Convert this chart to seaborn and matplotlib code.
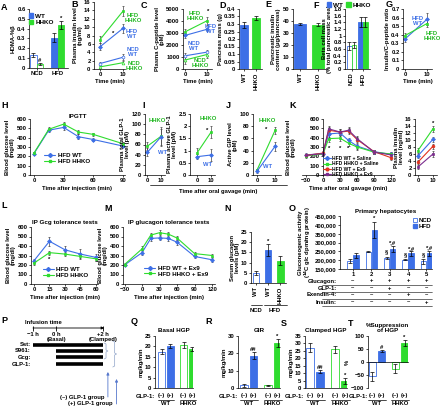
import numpy as np
import pandas as pd
import matplotlib
matplotlib.use("Agg")
import matplotlib.pyplot as plt
import matplotlib.transforms as mtransforms
from matplotlib.patches import Patch
from matplotlib.lines import Line2D
import seaborn as sns

sns.set_theme(style="ticks")
plt.rcParams["font.family"] = ["Liberation Sans", "DejaVu Sans"]
plt.rcParams["font.weight"] = "bold"
plt.rcParams["axes.labelweight"] = "bold"
plt.rcParams["axes.titleweight"] = "bold"
plt.rcParams["axes.linewidth"] = 0.5
plt.rcParams["axes.edgecolor"] = "black"
plt.rcParams["text.color"] = "black"
plt.rcParams["axes.labelcolor"] = "black"

BLUE = "#3d6fe6"
GREEN = "#2fdc2f"
RED = "#e0321e"
PURPLE = "#7b2d8e"
TBLUE = "#3d6fe6"
TGREEN = "#22b822"
FS = 4.2

# ---------------- data ----------------
# A  HOMA-%beta
a_diet = ["NCD", "NCD", "HFD", "HFD"]
a_geno = ["WT", "HHKO", "WT", "HHKO"]
homa_vals = [0.13, 0.04, 0.31, 0.44]
homa_errs = [0.02, 0.01, 0.05, 0.04]
# B  plasma insulin (ng/ml), 0 and 10 min
t2 = [0, 10]
ins_hfd_ko = [7.0, 13.8]
ins_hfd_wt = [5.3, 9.7]
ins_ncd_wt = [1.3, 2.8]
ins_ncd_ko = [0.5, 1.5]
ins_err_hfd_ko = [0.8, 1.2]
ins_err_hfd_wt = [0.8, 1.0]
ins_err_ncd_wt = [0.3, 0.7]
ins_err_ncd_ko = [0.2, 0.4]
# C  C-peptide (pM)
cp_hfd_ko = [3100, 4000]
cp_hfd_wt = [2800, 3300]
cp_ncd_wt = [1100, 1400]
cp_ncd_ko = [750, 1200]
cp_err_hfd_ko = [250, 300]
cp_err_hfd_wt = [200, 150]
cp_err_ncd_wt = [250, 200]
cp_err_ncd_ko = [300, 250]
# D  pancreas mass (g)
d_geno = ["WT", "HHKO"]
pm_vals = [0.295, 0.34]
pm_errs = [0.02, 0.01]
# E  pancreatic insulin content
pic_vals = [37.5, 37.0]
pic_errs = [1.2, 1.0]
# F  beta cell mass
bcm_vals = [0.68, 0.72, 1.42, 1.42]
bcm_errs = [0.12, 0.08, 0.15, 0.15]
# G  insulin / C-peptide ratio
ratio_wt = [0.35, 0.58]
ratio_ko = [0.39, 0.53]
ratio_err_wt = [0.03, 0.07]
ratio_err_ko = [0.03, 0.04]
# H  IPGTT
h_t = [0, 15, 30, 45, 60, 90]
h_wt = [230, 480, 510, 410, 380, 310]
h_ko = [235, 490, 545, 460, 435, 335]
h_err_wt = [15, 20, 30, 25, 20, 15]
h_err_ko = [15, 20, 20, 25, 20, 20]
# I / J oral gavage
glp_tot_ko = [57, 76]
glp_tot_wt = [45, 75]
glp_tot_err_ko = [8, 18]
glp_tot_err_wt = [8, 15]
glp_act_ko = [0.9, 1.75]
glp_act_wt = [0.75, 0.82]
glp_act_err_ko = [0.2, 0.25]
glp_act_err_wt = [0.1, 0.25]
gip_ko = [8, 73]
gip_wt = [6, 47]
gip_err_ko = [2, 6]
gip_err_wt = [2, 7]
# K  OGTT with saline / Ex9
k_t = [-30, 0, 10, 30, 45, 60, 90, 120]
k_wt_sal = [215, 230, 440, 450, 370, 310, 250, 220]
k_ko_sal = [205, 225, 390, 395, 340, 300, 245, 225]
k_wt_ex9 = [210, 235, 480, 460, 470, 380, 250, 185]
k_ko_ex9 = [210, 230, 495, 460, 480, 390, 245, 215]
k_err = [20, 20, 35, 30, 30, 30, 20, 25]
k_star_t = [10, 30, 45]
kin_wt_sal = [5.5, 10.2]
kin_ko_sal = [7.0, 13.2]
kin_wt_ex9 = [3.7, 8.2]
kin_ko_ex9 = [2.3, 6.0]
kin_err = [0.6, 0.8]
# L  IP Gcg tolerance
l_t = [0, 15, 30, 45, 60]
l_wt = [245, 450, 360, 315, 280]
l_ko = [220, 330, 315, 290, 265]
l_err_wt = [20, 45, 45, 50, 35]
l_err_ko = [20, 20, 25, 20, 20]
# M  IP glucagon tolerance + Ex9
m_t = [-30, 0, 15, 30, 45, 60, 90, 120]
m_wt = [200, 330, 480, 485, 480, 440, 290, 255]
m_ko = [205, 370, 515, 540, 525, 484, 320, 300]
m_err_wt = [15, 25, 25, 25, 25, 25, 20, 20]
m_err_ko = [15, 25, 25, 25, 25, 20, 20, 20]
# N  serum glucagon
n_ids = ["NCD WT", "HFD WT", "HFD HHKO"]
n_labels = ["WT", "WT", "HHKO"]
glc_vals = [5.0, 16.0, 11.0]
glc_errs = [1.0, 3.0, 2.0]
# O  gluconeogenic activity
o_cond = ["1", "1", "2", "2", "3", "3", "4", "4", "5", "5"]
o_diet = ["NCD", "HFD"] * 5
gng_vals = [195000, 228000, 248000, 372000, 212000, 262000, 203000, 238000, 193000, 240000]
gng_errs = [10000, 13000, 4000, 45000, 8000, 18000, 4000, 12000, 12000, 14000]
o_rows = ["Glucagon:", "GLP-1:", "Exendin-4:", "Insulin:"]
o_signs = [["–", "+", "+", "+", "+"],
           ["–", "–", "+", "–", "–"],
           ["–", "–", "–", "+", "–"],
           ["–", "–", "–", "–", "+"]]
# P  clamp protocol (hours)
p_agents = ["Sst:", "S961:", "Gcg:", "GLP-1:"]
p_start = [-1, 0, 0, 0]
p_end = [2, 2, 2, 2]
# Q-T clamp results
q_geno = ["WT", "WT", "HHKO", "HHKO"]
q_glp = ["(–)", "(+)", "(–)", "(+)"]
basal_vals = [17.5, 20.2, 20.8, 18.8]
basal_errs = [1.3, 0.8, 1.5, 1.0]
gir_vals = [1.5, 18.5, 1.5, 26.0]
gir_errs = [1.0, 2.0, 0.3, 2.5]
chgp_vals = [27.0, 11.0, 26.0, 4.5]
chgp_errs = [3.0, 1.0, 2.5, 2.0]
supp_vals = [-55, 43, -25, 73]
supp_errs = [18, 4, 18, 10]

# ---------------- helpers ----------------
W, H = 440, 408
fig = plt.figure(figsize=(4.4, 4.08), dpi=100)
fig.patch.set_facecolor("white")


def px_ax(x0, y0, x1, y1):
    ax = fig.add_axes([x0 / W, 1 - y1 / H, (x1 - x0) / W, (y1 - y0) / H])
    ax.set_facecolor("none")
    sns.despine(ax=ax)
    ax.tick_params(length=1.5, width=0.5, pad=1, labelsize=FS, colors="black")
    return ax


def ftext(x, y, s, **kw):
    kw.setdefault("fontsize", FS)
    kw.setdefault("ha", "center")
    kw.setdefault("va", "center")
    fig.text(x / W, 1 - y / H, s, **kw)


def letter(x, y, s):
    fig.text(x / W, 1 - y / H, s, fontsize=6.5, fontweight="bold", ha="left", va="top")


def yt(ax, lo, hi, step, fmt=None):
    ticks = np.arange(lo, hi + step / 2, step)
    ax.set_ylim(lo, hi)
    ax.set_yticks(ticks)
    if fmt is None:
        labels = [f"{t:g}".replace("-", "−") for t in np.round(ticks, 6)]
    else:
        labels = [fmt(t) for t in ticks]
    ax.set_yticklabels(labels)


def bars(ax, groups, hues, vals, errs, colors, hollow, width, gap=0):
    df = pd.DataFrame({"g": groups, "v": vals})
    if hues is None:
        sns.barplot(data=df, x="g", y="v", width=width, ax=ax, color="gray",
                    saturation=1, errorbar=None)
    else:
        df["h"] = hues
        sns.barplot(data=df, x="g", y="v", hue="h", width=width, gap=gap, ax=ax,
                    saturation=1, errorbar=None, legend=False)
    patches = sorted(ax.patches, key=lambda p: p.get_x())
    cx = []
    for p, c, ho in zip(patches, colors, hollow):
        p.set_facecolor("white" if ho else c)
        p.set_edgecolor(c)
        p.set_linewidth(0.6)
        cx.append(p.get_x() + p.get_width() / 2)
    ax.errorbar(cx, vals, yerr=errs, fmt="none", ecolor="black", elinewidth=0.5,
                capsize=1.2, capthick=0.5, zorder=3)
    ax.set_xlabel("")
    ax.set_ylabel("")
    return cx


def line(ax, x, y, e, color, marker="D", hollow=False, ms=2.0):
    sns.lineplot(x=x, y=y, ax=ax, color=color, marker=marker, markersize=ms,
                 linewidth=0.8, markeredgecolor=color,
                 markerfacecolor="white" if hollow else color, markeredgewidth=0.5)
    ax.errorbar(x, y, yerr=e, fmt="none", ecolor="#444444", elinewidth=0.5,
                capsize=1, capthick=0.5, zorder=1)


def star(ax, x, y, s, dy=0):
    ax.text(x, y + dy, s, ha="center", va="bottom", fontsize=FS)


def handle(color, marker):
    return Line2D([], [], color=color, marker=marker, markersize=2, lw=0.8)


# ---------------- A ----------------
letter(1, 3, "A")
ax = px_ax(29, 9, 68, 68)
c = bars(ax, a_diet, a_geno, homa_vals, homa_errs, [BLUE, GREEN, BLUE, GREEN],
         [True, True, False, False], 0.62)
ax.set_xlim(-0.36, 1.5)
yt(ax, 0, 0.6, 0.1)
ax.set_xticks([0, 1])
ax.set_xticklabels(["NCD", "HFD"])
ax.set_ylabel("HOMA-%β", fontsize=FS, labelpad=1)
star(ax, c[1], homa_vals[1] + homa_errs[1], "#")
star(ax, c[3], homa_vals[3] + homa_errs[3], "*")
ax.legend(handles=[Patch(color=BLUE, label="WT"), Patch(color=GREEN, label="HHKO")],
          loc="upper left", bbox_to_anchor=(0.0, 0.93), frameon=False, fontsize=FS + 0.4,
          handlelength=0.7, handleheight=0.7, handletextpad=0.3, labelspacing=0.15,
          borderpad=0, borderaxespad=0)

# ---------------- B ----------------
letter(71, 0, "B")
ax = px_ax(94, 2, 125, 69)
line(ax, t2, ins_hfd_ko, ins_err_hfd_ko, GREEN, "s")
line(ax, t2, ins_hfd_wt, ins_err_hfd_wt, BLUE, "D")
line(ax, t2, ins_ncd_wt, ins_err_ncd_wt, BLUE, "o", hollow=True)
line(ax, t2, ins_ncd_ko, ins_err_ncd_ko, GREEN, "^", hollow=True)
ax.set_xlim(-2.6, 10.9)
ax.set_xticks(t2)
yt(ax, 0, 16, 2)
ax.set_xlabel("Time (min)", fontsize=FS, labelpad=1)
ax.set_ylabel("Plasma insulin level\n(ng/ml)", fontsize=FS, labelpad=1, linespacing=1.0)
ftext(133, 18, "HFD\nHHKO", color=TGREEN, linespacing=1.0)
ftext(132, 34, "HFD\nWT", color=TBLUE, linespacing=1.0)
ftext(133, 52, "NCD\nWT", color=TBLUE, linespacing=1.0)
ftext(134, 66, "NCD\nHHKO", color=TGREEN, linespacing=1.0)
ftext(113, 33, "*")

# ---------------- C ----------------
letter(141, 1, "C")
ax = px_ax(183, 9, 212, 69)
line(ax, t2, cp_hfd_ko, cp_err_hfd_ko, GREEN, "s")
line(ax, t2, cp_hfd_wt, cp_err_hfd_wt, BLUE, "D")
line(ax, t2, cp_ncd_wt, cp_err_ncd_wt, BLUE, "o", hollow=True)
line(ax, t2, cp_ncd_ko, cp_err_ncd_ko, GREEN, "^", hollow=True)
ax.set_xlim(-1, 12.5)
ax.set_xticks(t2)
yt(ax, 0, 5000, 1000)
ax.set_xlabel("Time (min)", fontsize=FS, labelpad=1)
ax.set_ylabel("Plasma C-peptide level\n(pM)", fontsize=FS, labelpad=1, linespacing=1.0)
ftext(195, 16, "HFD\nHHKO", color=TGREEN, linespacing=1.0)
ftext(211, 29, "HFD\nWT", color=TBLUE, linespacing=1.0)
ftext(194, 46, "NCD\nWT", color=TBLUE, linespacing=1.0)
ftext(200, 63, "NCD\nHHKO", color=TGREEN, linespacing=1.0)
ftext(208, 11, "*")

# ---------------- D ----------------
letter(219, 1, "D")
ax = px_ax(239, 9, 262, 69)
bars(ax, d_geno, None, pm_vals, pm_errs, [BLUE, GREEN], [False, False], 0.62)
ax.set_xlim(-0.42, 1.5)
yt(ax, 0, 0.4, 0.05)
ax.tick_params(axis="x", rotation=90)
ax.set_ylabel("Pancreas mass (g)", fontsize=FS, labelpad=1)

# ---------------- E ----------------
letter(265, 0, "E")
ax = px_ax(293, 9, 327, 69)
bars(ax, d_geno, None, pic_vals, pic_errs, [BLUE, GREEN], [False, False], 0.72)
ax.set_xlim(-0.39, 1.5)
yt(ax, 0, 50, 10)
ax.tick_params(axis="x", rotation=90)
ax.set_ylabel("Pancreatic insulin\ncontent (μg/pancreas)", fontsize=FS, labelpad=1,
              linespacing=1.0)

# ---------------- F ----------------
letter(313, 1, "F")
ax = px_ax(345, 9, 370, 69)
c = bars(ax, a_diet, a_geno, bcm_vals, bcm_errs, [BLUE, GREEN, BLUE, GREEN],
         [True, True, False, False], 0.82)
ax.set_xlim(-0.57, 1.6)
yt(ax, 0, 1.8, 0.2)
ax.set_xticks([0, 1])
ax.set_xticklabels(["NCD", "HFD"], rotation=90)
ax.set_ylabel("Beta cell mass\n(% total pancreatic area)", fontsize=FS, labelpad=1,
              linespacing=1.0)
fig.legend(handles=[Patch(color=BLUE, label="WT"), Patch(color=GREEN, label="HHKO")],
           loc="center left", bbox_to_anchor=(327 / W, 1 - 5 / H), ncol=2, frameon=False,
           fontsize=FS + 0.4, handlelength=0.7, handleheight=0.7, handletextpad=0.2,
           columnspacing=0.6, borderpad=0, borderaxespad=0)

# ---------------- G ----------------
letter(386, 0, "G")
ax = px_ax(403, 9, 432, 69)
line(ax, t2, ratio_wt, ratio_err_wt, BLUE, "D")
line(ax, t2, ratio_ko, ratio_err_ko, GREEN, "s")
ax.set_xlim(-0.9, 12.3)
ax.set_xticks(t2)
yt(ax, 0, 0.7, 0.1)
ax.set_xlabel("Time (min)", fontsize=FS, labelpad=1)
ax.set_ylabel("Insulin/C-peptide ratio", fontsize=FS, labelpad=1)
ftext(418, 21, "HFD\nWT", color=TBLUE, linespacing=1.0)
ftext(432, 36, "HFD\nHHKO", color=TGREEN, linespacing=1.0)

# ---------------- H ----------------
letter(1, 101, "H")
ax = px_ax(30, 119, 125, 175)
line(ax, h_t, h_wt, h_err_wt, BLUE, "D")
line(ax, h_t, h_ko, h_err_ko, GREEN, "s")
ax.set_xlim(-4, 92)
ax.set_xticks([0, 30, 60, 90])
yt(ax, 0, 600, 100)
ax.set_title("IPGTT", fontsize=FS + 0.3, pad=1)
ax.set_xlabel("Time after injection (min)", fontsize=FS, labelpad=2)
ax.set_ylabel("Blood glucose level\n(mg/dl)", fontsize=FS, labelpad=1, linespacing=1.0)
ax.legend(handles=[handle(BLUE, "D"), handle(GREEN, "s")], labels=["HFD WT", "HFD HHKO"],
          loc="upper left", bbox_to_anchor=(0.12, 0.45), frameon=False, fontsize=FS + 0.2,
          handlelength=1.8, handletextpad=0.4, labelspacing=0.1, borderpad=0)

# ---------------- I ----------------
letter(142, 101, "I")
ax = px_ax(145, 114, 165, 175)
line(ax, t2, glp_tot_ko, glp_tot_err_ko, GREEN, "s")
line(ax, t2, glp_tot_wt, glp_tot_err_wt, BLUE, "D")
ax.set_xlim(-1.85, 13)
ax.set_xticks(t2)
yt(ax, 0, 120, 20)
ax.set_ylabel("Plasma total GLP-1\nlevel (pM)", fontsize=FS, labelpad=1, linespacing=1.0)
ftext(157, 121, "HHKO", color=TGREEN)
ftext(163, 153, "WT", color=TBLUE)

# ---------------- J ----------------
letter(226, 101, "J")
ax = px_ax(190, 114, 215, 175)
line(ax, t2, glp_act_ko, glp_act_err_ko, GREEN, "s")
line(ax, t2, glp_act_wt, glp_act_err_wt, BLUE, "D")
ax.set_xlim(-5, 12.9)
ax.set_xticks(t2)
yt(ax, 0, 2.5, 0.5)
ax.set_ylabel("Plasma active GLP-1\nlevel (pM)", fontsize=FS, labelpad=1, linespacing=1.0)
ftext(208, 118, "HHKO", color=TGREEN)
ftext(207, 130, "*")
ftext(208, 164, "WT", color=TBLUE)

ax = px_ax(253, 114, 281, 175)
line(ax, t2, gip_ko, gip_err_ko, GREEN, "s")
line(ax, t2, gip_wt, gip_err_wt, BLUE, "D")
ax.set_xlim(-2.2, 13.3)
ax.set_xticks(t2)
yt(ax, 0, 100, 20)
ax.set_ylabel("Active GIP level\n(pM)", fontsize=FS, labelpad=1, linespacing=1.0)
ftext(267, 120, "HHKO", color=TGREEN)
ftext(266, 129, "*")
ftext(268, 166, "WT", color=TBLUE)

fig.add_artist(Line2D([150 / W, 287 / W], [1 - 185 / H, 1 - 185 / H], lw=0.5, color="black"))
ftext(218, 191, "Time after oral gavage (min)")

# ---------------- K ----------------
letter(289, 101, "K")
ax = px_ax(302, 119, 394, 175)
line(ax, k_t, k_wt_sal, k_err, BLUE, "D")
line(ax, k_t, k_ko_sal, k_err, GREEN, "s")
line(ax, k_t, k_wt_ex9, k_err, RED, "o")
line(ax, k_t, k_ko_ex9, k_err, PURPLE, "s")
ax.spines["left"].set_position(("data", 0))
ax.set_xlim(-37, 125)
ax.set_xticks([-30, 0, 30, 60, 90, 120])
ax.set_xticklabels(["−30", "0", "30", "60", "90", "120"])
yt(ax, 0, 600, 100)
ax.set_xlabel("Time after oral gavage (min)", fontsize=FS, labelpad=2)
ax.set_ylabel("Blood glucose level\n(mg/dl)", fontsize=FS, labelpad=10, linespacing=1.0)
for t in k_star_t:
    ax.text(t, 255, "*", ha="center", va="bottom", fontsize=FS)
ax.legend(handles=[handle(BLUE, "D"), handle(GREEN, "s"), handle(RED, "o"), handle(PURPLE, "s")],
          labels=["HFD WT + Saline", "HFD HHKO + Saline", "HFD WT + Ex9", "HFD HHKO + Ex9"],
          loc="upper left", bbox_to_anchor=(0.2, 0.38), frameon=False, fontsize=3.5,
          handlelength=1.6, handletextpad=0.3, labelspacing=0.05, borderpad=0)

ax = px_ax(415, 119, 437, 175)
line(ax, t2, kin_ko_sal, kin_err, GREEN, "s")
line(ax, t2, kin_wt_sal, kin_err, BLUE, "D")
line(ax, t2, kin_wt_ex9, kin_err, RED, "o")
line(ax, t2, kin_ko_ex9, kin_err, PURPLE, "s")
ax.set_xlim(-2, 12.7)
ax.set_xticks(t2)
yt(ax, 0, 16, 2)
ax.set_ylabel("Plasma insulin\nlevel (ng/ml)", fontsize=FS, labelpad=1, linespacing=1.0)
star(ax, 10, kin_ko_sal[1] + kin_err[1], "*")

# ---------------- L ----------------
letter(1, 201, "L")
ax = px_ax(31, 227, 98, 284)
line(ax, l_t, l_wt, l_err_wt, BLUE, "D")
line(ax, l_t, l_ko, l_err_ko, GREEN, "s")
ax.set_xlim(-2.9, 62)
ax.set_xticks(l_t)
yt(ax, 0, 600, 100)
ax.set_title("IP Gcg tolerance tests", fontsize=FS + 0.3, pad=2)
ax.set_xlabel("Time after injection (min)", fontsize=FS, labelpad=2)
ax.set_ylabel("Blood glucose level\n(mg/dl)", fontsize=FS, labelpad=1, linespacing=1.0)
ax.text(15, l_ko[1] - l_err_ko[1] - 75, "*", ha="center", va="bottom", fontsize=FS)
ax.legend(handles=[handle(BLUE, "D"), handle(GREEN, "s")], labels=["HFD WT", "HFD HHKO"],
          loc="upper left", bbox_to_anchor=(0.13, 0.36), frameon=False, fontsize=FS + 0.2,
          handlelength=1.8, handletextpad=0.4, labelspacing=0.1, borderpad=0)

# ---------------- M ----------------
letter(104, 204, "M")
ax = px_ax(123, 227, 215, 284)
line(ax, m_t, m_wt, m_err_wt, BLUE, "D")
line(ax, m_t, m_ko, m_err_ko, GREEN, "s")
ax.set_xlim(-32.6, 125)
ax.set_xticks([-30, 0, 30, 60, 90, 120])
ax.set_xticklabels(["−30", "0", "30", "60", "90", "120"])
yt(ax, 0, 600, 100)
ax.set_title("IP glucagon tolerance tests", fontsize=FS + 0.3, pad=2)
ax.set_xlabel("Time after injection (min)", fontsize=FS, labelpad=2)
ax.set_ylabel("Blood glucose level\n(mg/dl)", fontsize=FS, labelpad=1, linespacing=1.0)
ax.legend(handles=[handle(BLUE, "D"), handle(GREEN, "s")],
          labels=["HFD WT + Ex9", "HFD HHKO + Ex9"],
          loc="upper left", bbox_to_anchor=(0.2, 0.38), frameon=False, fontsize=FS + 0.2,
          handlelength=1.8, handletextpad=0.4, labelspacing=0.1, borderpad=0)

# ---------------- N ----------------
letter(224, 204, "N")
ax = px_ax(251, 232, 286, 283)
c = bars(ax, n_ids, None, glc_vals, glc_errs, [BLUE, BLUE, GREEN], [True, False, False], 0.5)
ax.set_xlim(-0.4, 2.45)
yt(ax, 0, 25, 5)
ax.set_xticks(range(3))
ax.set_xticklabels(n_labels, rotation=90)
ax.set_ylabel("Serum glucagon\nlevels (pM)", fontsize=FS, labelpad=1, linespacing=1.0)
star(ax, c[1], glc_vals[1] + glc_errs[1], "*")
fig.add_artist(Line2D([251 / W, 262 / W], [1 - 305 / H] * 2, lw=0.5, color="black"))
fig.add_artist(Line2D([264 / W, 287 / W], [1 - 305 / H] * 2, lw=0.5, color="black"))
ftext(256, 310, "NCD")
ftext(275, 310, "HFD")

# ---------------- O ----------------
letter(289, 204, "O")
ax = px_ax(340, 216, 432, 269)
c = bars(ax, o_cond, o_diet, gng_vals, gng_errs, [BLUE] * 10, [True, False] * 5, 0.65, gap=0.1)
ax.set_xlim(-0.7, 4.3)
yt(ax, 150000, 450000, 50000, fmt=lambda v: f"{int(v):,}")
ax.set_ylabel("Gluconeogenic activity\n($^{14}$C glc dpm/mg protein)", fontsize=FS,
              labelpad=1, linespacing=1.0)
ax.set_title("Primary hepatocytes", fontsize=FS + 0.3, pad=2)
ax.set_xticks(range(5))
ax.set_xticklabels(["1", "2", "3", "4", "5"])
for i in range(5):
    ncd, hfd = 2 * i, 2 * i + 1
    if i == 1:
        star(ax, c[hfd], gng_vals[hfd] + gng_errs[hfd], "*", 3000)
    elif i > 1:
        star(ax, c[hfd], gng_vals[hfd] + gng_errs[hfd], "*,#", 3000)
        star(ax, c[ncd], gng_vals[ncd] + gng_errs[ncd], "§", 12000)
ax.legend(handles=[Patch(facecolor="white", edgecolor=BLUE, lw=0.6, label="NCD"),
                   Patch(color=BLUE, label="HFD")],
          loc="upper right", bbox_to_anchor=(1.0, 0.97), frameon=False, fontsize=FS + 0.2,
          handlelength=0.7, handleheight=0.7, handletextpad=0.3, labelspacing=0.15,
          borderpad=0, borderaxespad=0)
blend = mtransforms.blended_transform_factory(ax.transData, fig.transFigure)
for r, (name, signs) in enumerate(zip(o_rows, o_signs)):
    yp = 281 + 7 * r
    ftext(337, yp, name, ha="right")
    for i, s in enumerate(signs):
        ax.text(i, 1 - yp / H, s, transform=blend, ha="center", va="center", fontsize=FS,
                clip_on=False)
    fig.add_artist(Line2D([322 / W, 432 / W], [1 - (yp + 3.5) / H] * 2, lw=0.4,
                          color="black"))

# ---------------- P ----------------
letter(1, 316, "P")
ax = fig.add_axes([0, 0, 140 / W, 108 / H])
ax.axis("off")
ax.set_xlim(-1 - 33 / 23.33, 2 + 37 / 23.33)
ax.set_ylim(108, 0)
rows = [45, 51, 57, 64]
ax.hlines(rows, p_start, p_end, lw=2.6, color="black")
for y, name in zip(rows, p_agents):
    ax.text(-1.1, y, name, ha="right", va="center", fontsize=FS)
ax.annotate("", xy=(2.05, 28), xytext=(-1, 28),
            arrowprops=dict(arrowstyle="-|>", lw=0.6, color="black", mutation_scale=4,
                            shrinkA=0, shrinkB=0))
ax.vlines([-1, 0, 2], 25.5, 30.5, lw=0.6, color="black")
ax.text(-0.55, 22, "Infusion time", ha="center", va="center", fontsize=FS)
ax.text(-1, 34, "−1 h", ha="center", va="center", fontsize=FS)
ax.text(0, 34, "0 h", ha="center", va="center", fontsize=FS)
ax.text(2, 34, "+2 h", ha="center", va="center", fontsize=FS)
ax.text(0, 39.5, "(Basal)", ha="center", va="center", fontsize=FS)
ax.text(2, 39.5, "(Clamped)", ha="center", va="center", fontsize=FS)
BR = "#8fa3c8"
for xb, y0, y1 in [(2.13, 43, 59), (2.5, 41, 67)]:
    ym = (y0 + y1) / 2
    ax.plot([xb - 0.08, xb, xb, xb + 0.08, xb, xb, xb - 0.08],
            [y0, y0 + 1, ym - 1, ym, ym + 1, y1 - 1, y1], lw=0.5, color=BR)
ax.annotate("", xy=(2.21, 72), xytext=(2.21, 97),
            arrowprops=dict(arrowstyle="-|>", lw=0.6, color="#5577cc", mutation_scale=4,
                            shrinkA=0, shrinkB=0))
ax.annotate("", xy=(2.58, 79), xytext=(2.58, 104),
            arrowprops=dict(arrowstyle="-|>", lw=0.6, color="#5577cc", mutation_scale=4,
                            shrinkA=0, shrinkB=0))
ax.text(2.05, 97, "(–) GLP-1 group", ha="right", va="center", fontsize=FS)
ax.text(2.42, 103.5, "(+) GLP-1 group", ha="right", va="center", fontsize=FS)


# ---------------- Q-T ----------------
def clamp_panel(x0, x1, xl, xr, lab_x, vals, errs, lo, hi, step, title, ylab, marks):
    ax = px_ax(x0, 336, x1, 388)
    c = bars(ax, q_geno, q_glp, vals, errs, [BLUE, BLUE, GREEN, GREEN],
             [True, False, True, False], 0.8, gap=0.25)
    ax.set_xlim(xl, xr)
    yt(ax, lo, hi, step)
    ax.set_xticks([])
    ax.set_title(title, fontsize=FS + 0.3, pad=3, linespacing=1.0)
    ax.set_ylabel(ylab, fontsize=FS, labelpad=1)
    blend = mtransforms.blended_transform_factory(ax.transData, fig.transFigure)
    ftext(lab_x, 396, "GLP-1:", ha="right")
    for xc, s in zip(c, q_glp):
        ax.text(xc, 1 - 396 / H, s, transform=blend, ha="center", va="center",
                fontsize=FS, clip_on=False)
    for g, (a, b) in zip(["WT", "HHKO"], [(0, 1), (2, 3)]):
        ax.plot([c[a] - 0.18, c[b] + 0.18], [1 - 399.5 / H] * 2, transform=blend,
                lw=0.5, color="black", clip_on=False)
        ax.text((c[a] + c[b]) / 2, 1 - 403.5 / H, g, transform=blend, ha="center",
                va="center", fontsize=FS, clip_on=False)
    for i, s in marks:
        top = vals[i] + errs[i] if vals[i] >= 0 else errs[i]
        star(ax, c[i], top, s)
    return ax


letter(131, 317, "Q")
clamp_panel(155, 193, -0.5, 1.23, 155, basal_vals, basal_errs, 0, 25, 5, "Basal HGP",
            "mg/kg/min", [])
letter(205, 317, "R")
clamp_panel(238, 280, -0.45, 1.3, 238, gir_vals, gir_errs, 0, 30, 10, "GIR",
            "mg/kg/min", [(1, "##"), (3, "*")])
letter(281, 319, "S")
clamp_panel(305, 347, -0.4, 1.28, 304, chgp_vals, chgp_errs, 0, 35, 5, "Clamped HGP",
            "mg/kg/min", [(1, "##"), (3, "*")])
letter(348, 319, "T")
ax = clamp_panel(368, 408, -0.39, 1.35, 368, supp_vals, supp_errs, -100, 100, 50,
                 "%Suppression\nof HGP", "%", [(1, "#"), (3, "*")])
ax.spines["bottom"].set_position(("data", 0))

fig.savefig("out.png", dpi=100, facecolor="white")
